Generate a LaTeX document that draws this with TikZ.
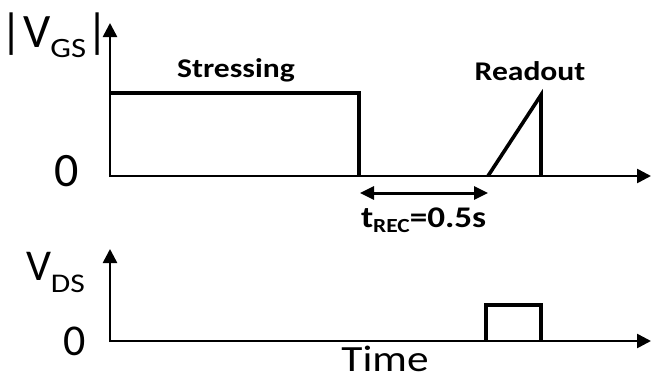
\documentclass[tikz,border=0pt]{standalone}
\usepackage{fontspec}
\setmainfont{Carlito}[FakeStretch=1.17]
\newfontfamily\plainfont{Carlito}
\usetikzlibrary{arrows.meta}
\newcommand{\fsz}[1]{\fontsize{#1}{#1}\selectfont}
\begin{document}
\begin{tikzpicture}[x=1pt,y=-1pt,
  axis/.style={line width=2.6pt,-{Triangle[length=14pt,width=14pt]}},
  wave/.style={line width=3.6pt,line join=miter},
  span/.style={line width=3pt,{Triangle[length=14pt,width=13pt]}-{Triangle[length=14pt,width=13pt]}},
  lbl/.style={inner sep=0pt,outer sep=0pt,anchor=base},
]
\fill[white] (0,0) rectangle (651,380);
\useasboundingbox (0,0) rectangle (651,380);

% ---- gate voltage panel ----
\coordinate (go) at (110,176);
\coordinate (gy) at (110,23);
\coordinate (gx) at (651,176);
\draw[axis] (go |- 0,177) -- (gy);
\draw[axis] (go) -- (gx);

% stressing pulse
\coordinate (s1) at (110,93);
\coordinate (s2) at (359,93);
\coordinate (s3) at (359,176);
\draw[wave] (s1) -- (s2) -- (s3);

% readout ramp
\coordinate (r1) at (488,176);
\coordinate (r2) at (541,95);
\coordinate (r3) at (541,176);
\draw[wave] (r1) -- (r2) -- (r3);

% recovery time
\coordinate (t1) at (360,193);
\coordinate (t2) at (488,193);
\draw[span] (t1) -- (t2);

\node[lbl,anchor=base west] (vgs) at (1,47)
  {\plainfont\fsz{48}|V\raisebox{-10pt}{\rmfamily\fsz{28}GS}|};
\node[lbl] (zg) at (67,186) {\plainfont\fsz{48}0};
\node[lbl] (stress) at (236,77) {\fsz{27}\bfseries Stressing};
\node[lbl] (read) at (530,80) {\fsz{27}\bfseries Readout};
\node[lbl,anchor=base west] (trec) at (361,227)
  {\bfseries\fsz{30}t\raisebox{-5pt}{\fsz{20}REC}=0.5s};

% ---- drain voltage panel ----
\coordinate (do) at (110,341);
\coordinate (dy) at (110,249);
\coordinate (dx) at (651,341);
\draw[axis] (do |- 0,342) -- (dy);
\draw[axis] (do) -- (dx);

% readout pulse
\coordinate (p1) at (486,341);
\coordinate (p2) at (486,305);
\coordinate (p3) at (541,305);
\coordinate (p4) at (541,341);
\draw[wave] (p1) -- (p2) -- (p3) -- (p4);

\node[lbl,anchor=base west] (vds) at (26,280)
  {\plainfont\fsz{44}V\raisebox{-12pt}{\rmfamily\fsz{27}DS}};
\node[lbl] (zd) at (75,355) {\plainfont\fsz{44}0};
\node[lbl] (time) at (385,371) {\fsz{37}Time};
\end{tikzpicture}
\end{document}
